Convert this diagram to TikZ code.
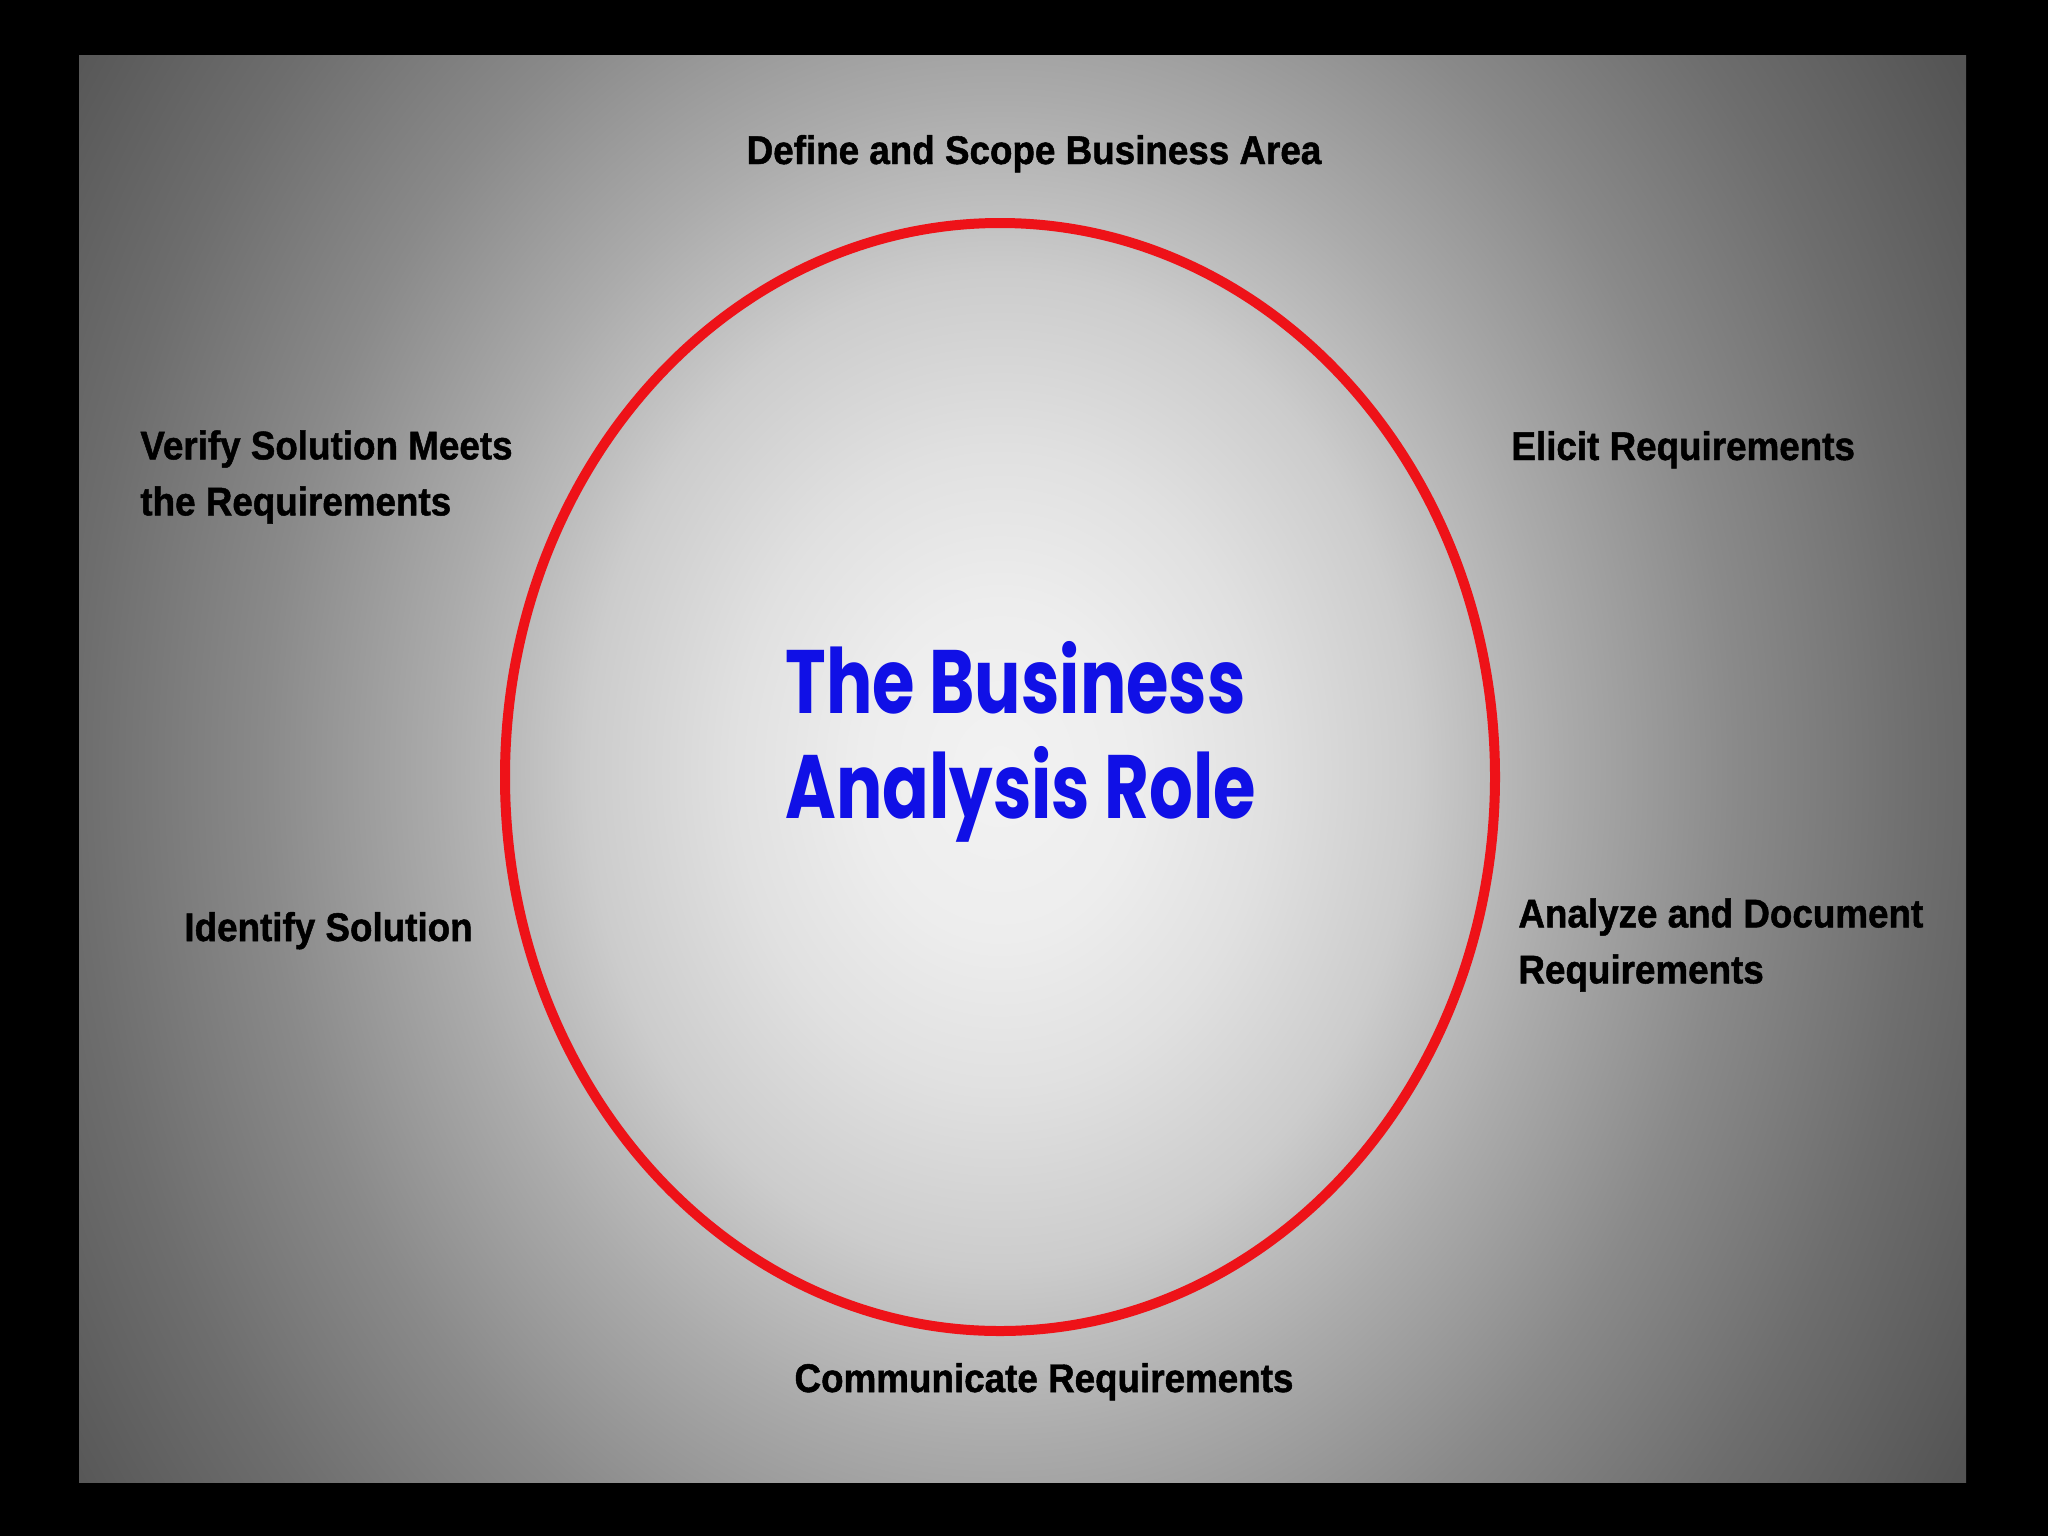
\documentclass[tikz,border=0pt]{standalone}
\usepackage{fontspec}
\setmainfont{Liberation Sans}
\newfontfamily\lblfont[FakeStretch=0.92,FakeBold=1.2]{Liberation Sans}
\newfontfamily\ctrfont[FakeStretch=0.765]{Poppins}
\definecolor{ringred}{RGB}{238,18,24}
\definecolor{titleblue}{RGB}{16,16,230}
\pgfdeclareradialshading{bgglow}{\pgfpoint{0bp}{0bp}}{%
  color(0bp)=(black!5);
  color(3bp)=(black!7);
  color(5.8bp)=(black!12);
  color(9bp)=(black!20);
  color(10.4bp)=(black!26);
  color(12.2bp)=(black!33);
  color(16bp)=(black!46);
  color(20bp)=(black!57);
  color(24.4bp)=(black!67);
  color(50bp)=(black!67)}
\tikzset{
  lbl/.style={font=\lblfont\bfseries\fontsize{20pt}{28pt}\selectfont, text=black, inner sep=0pt, align=left},
  ctr/.style={font=\ctrfont\bfseries\fontsize{45pt}{52.5pt}\selectfont, text=titleblue, inner sep=0pt, align=left},
  ring/.style={draw=ringred, line width=5pt}
}
\begin{document}
\begin{tikzpicture}[x=0.5pt,y=-0.5pt]
  \useasboundingbox (0,0) rectangle (2048,1536);
  \fill[black] (0,0) rectangle (2048,1536);
  \begin{scope}
    \clip (79,56) rectangle (1966,1482);
    \shade[shading=bgglow] (1000,770) ellipse [x radius=1150, y radius=1380];
  \end{scope}
  \draw[ring] (1000,777) ellipse [x radius=495, y radius=554];
  \node[ctr, anchor=north west] (role) at (785,641) {The Business\\Analysis Role};
  \node[lbl, anchor=base] (define) at (1034,164) {Define and Scope Business Area};
  \node[lbl, anchor=base west] (elicit) at (1511,460) {Elicit Requirements};
  \node[lbl, anchor=north west] (verify) at (140,430) {Verify Solution Meets\\the Requirements};
  \node[lbl, anchor=base west] (identify) at (184,941) {Identify Solution};
  \node[lbl, anchor=north west] (analyze) at (1518,898) {Analyze and Document\\Requirements};
  \node[lbl, anchor=base] (communicate) at (1044,1392) {Communicate Requirements};
\end{tikzpicture}
\end{document}
